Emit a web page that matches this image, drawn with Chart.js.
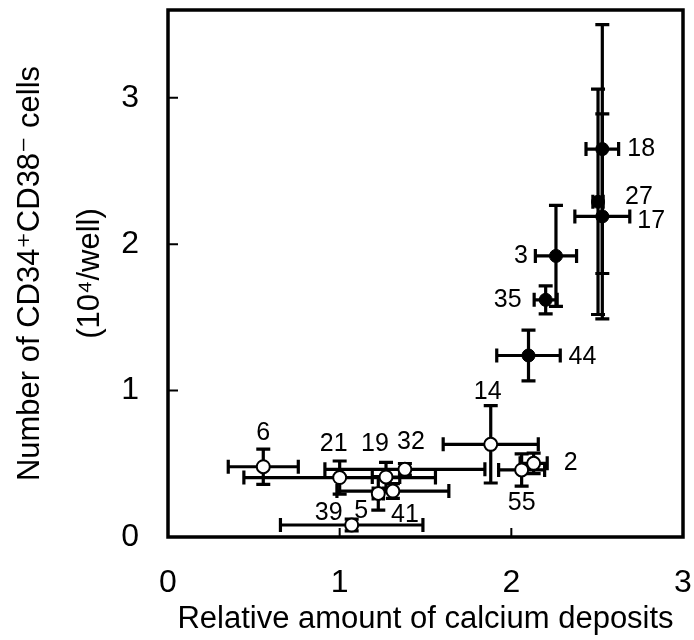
<!DOCTYPE html>
<html>
<head>
<meta charset="utf-8">
<title>CD34+CD38- cells vs calcium deposits</title>
<script src="https://cdn.jsdelivr.net/npm/chart.js@4.4.1/dist/chart.umd.min.js"></script>
<style>
    html, body { margin: 0; padding: 0; background: #fff; }
    #wrap { width: 694px; height: 640px; }
</style>
</head>
<body>
<div id="wrap"><canvas id="calciumChart" width="694" height="640"></canvas></div>
<script>
// filled circles
const filledIds = ['18', '27', '17', '3', '35', '44'];
const filledX = [2.53, 2.505, 2.53, 2.26, 2.20, 2.10];
const filledY = [2.65, 2.29, 2.19, 1.92, 1.62, 1.24];
const filledXErr = [0.095, 0.03, 0.16, 0.12, 0.067, 0.185];
const filledYErr = [0.85, 0.77, 0.70, 0.345, 0.096, 0.173];

// open circles
const openIds = ['14', '2', '55', '6', '21', '19', '32', '39', '5', '41'];
const openX = [1.88, 2.13, 2.06, 0.555, 1.0, 1.27, 1.38, 1.07, 1.225, 1.31];
const openY = [0.633, 0.503, 0.458, 0.48, 0.406, 0.41, 0.462, 0.082, 0.298, 0.314];
const openXErr = [0.277, 0.079, 0.134, 0.204, 0.558, 0.08, 0.466, 0.415, 0.03, 0.326];
const openYErr = [0.264, 0.07, 0.11, 0.12, 0.113, 0.10, 0.04, 0.04, 0.114, 0.05];

const xTicks = [0, 1, 2, 3];
const yTicks = [0, 1, 2, 3];

// where each number label sits next to its point: [dx, dy, align]
const filledLabelPos = [[25, 0, 'left'], [27, -5, 'left'], [35, 5, 'left'], [-28, 0, 'right'], [-24, 0, 'right'], [40, 2, 'left']];
const openLabelPos = [[-3, -52, 'center'], [30, 0, 'left'], [0, 33, 'center'], [0, -34, 'center'], [-6, -33, 'center'],
    [-11, -33, 'center'], [6, -27, 'center'], [-23, -12, 'center'], [-17, 18, 'center'], [12, 24, 'center']];

const FONT = "'Liberation Sans', Arial, 'DejaVu Sans', sans-serif";

function buildPoints(ids, xs, ys, xe, ye, pos) {
    return ids.map((id, i) => ({ x: xs[i], y: ys[i], xErr: xe[i], yErr: ye[i], id: id, pos: pos[i] }));
}

// keep the plot box where the original has it
function noScalePadding(s) {
    s.paddingTop = 0;
    s.paddingBottom = 0;
    s.paddingLeft = 0;
    s.paddingRight = 0;
}

// error bars drawn under the markers, through the chart scales
const errorBars = {
    id: 'errorBars',
    beforeDatasetsDraw(chart) {
        const ctx = chart.ctx;
        const xs = chart.scales.x, ys = chart.scales.y;
        const cap = 7;
        ctx.save();
        ctx.strokeStyle = '#000';
        ctx.lineWidth = 3.2;
        ctx.lineCap = 'butt';
        chart.data.datasets.forEach(ds => {
            ds.data.forEach(p => {
                const px = xs.getPixelForValue(p.x), py = ys.getPixelForValue(p.y);
                const x0 = xs.getPixelForValue(p.x - p.xErr), x1 = xs.getPixelForValue(p.x + p.xErr);
                const y0 = ys.getPixelForValue(p.y - p.yErr), y1 = ys.getPixelForValue(p.y + p.yErr);
                ctx.beginPath();
                ctx.moveTo(x0, py); ctx.lineTo(x1, py);
                ctx.moveTo(x0, py - cap); ctx.lineTo(x0, py + cap);
                ctx.moveTo(x1, py - cap); ctx.lineTo(x1, py + cap);
                ctx.moveTo(px, y0); ctx.lineTo(px, y1);
                ctx.moveTo(px - cap, y0); ctx.lineTo(px + cap, y0);
                ctx.moveTo(px - cap, y1); ctx.lineTo(px + cap, y1);
                ctx.stroke();
            });
        });
        ctx.restore();
    }
};

// number labels next to points, box frame and inward ticks
const frameAndLabels = {
    id: 'frameAndLabels',
    afterDatasetsDraw(chart) {
        const ctx = chart.ctx;
        const xs = chart.scales.x, ys = chart.scales.y;
        ctx.save();
        ctx.fillStyle = '#000';
        ctx.font = '25px ' + FONT;
        ctx.textBaseline = 'middle';
        chart.data.datasets.forEach(ds => {
            ds.data.forEach(p => {
                ctx.textAlign = p.pos[2];
                ctx.fillText(p.id, xs.getPixelForValue(p.x) + p.pos[0], ys.getPixelForValue(p.y) + p.pos[1]);
            });
        });

        const a = chart.chartArea;
        ctx.strokeStyle = '#000';
        ctx.lineWidth = 2;
        ctx.beginPath();
        yTicks.forEach(v => {
            if (v === 0) return;
            const y = ys.getPixelForValue(v);
            ctx.moveTo(a.left, y); ctx.lineTo(a.left + 10, y);
        });
        xTicks.forEach(v => {
            if (v === 0 || v === 3) return;
            const x = xs.getPixelForValue(v);
            ctx.moveTo(x, a.bottom); ctx.lineTo(x, a.bottom - 9);
        });
        ctx.stroke();
        ctx.lineWidth = 3.5;
        ctx.strokeRect(a.left, a.top, a.right - a.left, a.bottom - a.top);
        ctx.restore();
    }
};

function createChart() {
    const ctx = document.getElementById('calciumChart');
    const filledData = buildPoints(filledIds, filledX, filledY, filledXErr, filledYErr, filledLabelPos);
    const openData = buildPoints(openIds, openX, openY, openXErr, openYErr, openLabelPos);

    new Chart(ctx, {
        type: 'scatter',
        data: {
            datasets: [
                {
                    label: 'open',
                    data: openData,
                    pointRadius: 6.5,
                    pointBackgroundColor: '#fff',
                    pointBorderColor: '#000',
                    pointBorderWidth: 2
                },
                {
                    label: 'filled',
                    data: filledData,
                    pointRadius: 6.5,
                    pointBackgroundColor: '#000',
                    pointBorderColor: '#000',
                    pointBorderWidth: 1
                }
            ]
        },
        options: {
            responsive: false,
            animation: false,
            layout: { padding: { top: 10, right: 11, bottom: 0, left: 0 } },
            plugins: {
                legend: { display: false },
                tooltip: { enabled: false }
            },
            scales: {
                x: {
                    type: 'linear',
                    min: 0,
                    max: 3,
                    afterFit: s => { s.height = 103; noScalePadding(s); },
                    afterBuildTicks: s => { s.ticks = xTicks.map(v => ({ value: v })); },
                    grid: { display: false, drawTicks: false },
                    border: { display: false },
                    ticks: {
                        color: '#000',
                        padding: 27,
                        maxRotation: 0,
                        font: { family: FONT, size: 32 }
                    },
                    title: {
                        display: true,
                        text: 'Relative amount of calcium deposits',
                        color: '#000',
                        padding: { top: 0, bottom: 2 },
                        font: { family: FONT, size: 31, lineHeight: 1.2 }
                    }
                },
                y: {
                    type: 'linear',
                    min: 0,
                    max: 3.6,
                    afterFit: s => { s.width = 168; noScalePadding(s); },
                    afterBuildTicks: s => { s.ticks = yTicks.map(v => ({ value: v })); },
                    grid: { display: false, drawTicks: false },
                    border: { display: false },
                    ticks: {
                        color: '#000',
                        padding: 29,
                        font: { family: FONT, size: 32 }
                    },
                    title: {
                        display: true,
                        text: ['Number of CD34\u207ACD38\u207B cells', '(10\u2074/well)'],
                        color: '#000',
                        padding: { top: 0, bottom: 0 },
                        font: { family: FONT, size: 31, lineHeight: 1.94 }
                    }
                }
            }
        },
        plugins: [errorBars, frameAndLabels]
    });
}

document.addEventListener('DOMContentLoaded', createChart);
</script>
</body>
</html>
